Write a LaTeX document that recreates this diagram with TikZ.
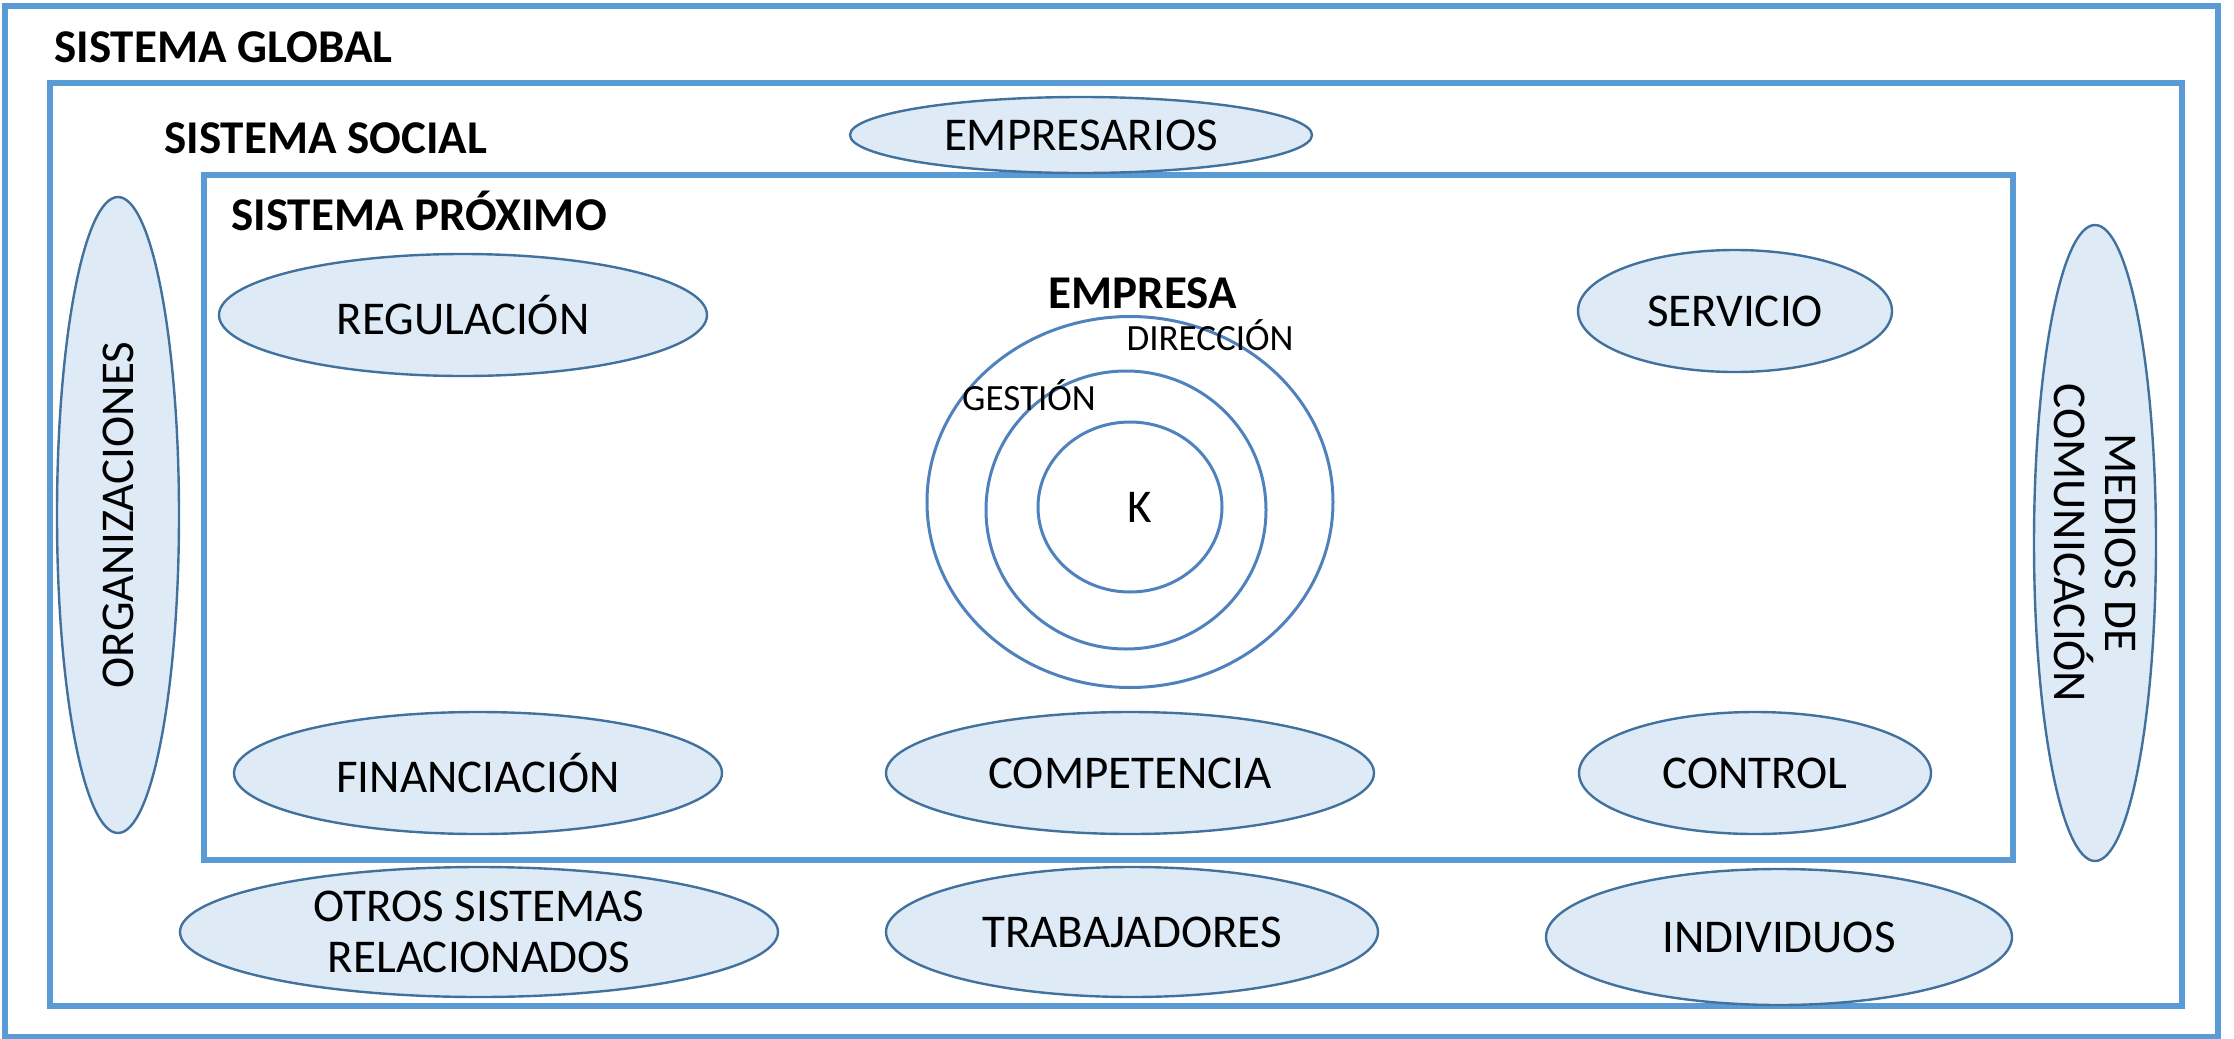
\documentclass[tikz,border=0pt]{standalone}
\usepackage{fontspec}
\setmainfont{Carlito}
\usetikzlibrary{shapes.geometric}
\definecolor{marco}{HTML}{5B9BD5}
\definecolor{relleno}{HTML}{DEEBF7}
\definecolor{borde}{HTML}{41719C}
\definecolor{aro}{HTML}{4F81BD}
\begin{document}
\begin{tikzpicture}[
    x=0.5pt, y=-0.5pt,
    sistema/.style={draw=marco, line width=2.7pt},
    titulo/.style={anchor=west, inner sep=0pt, font=\fontsize{23.5}{28}\selectfont\bfseries},
    agente/.style={ellipse, draw=borde, fill=relleno, line width=1.2pt, inner sep=0pt,
        align=center, font=\fontsize{23.5}{25.5}\selectfont},
    anillo/.style={ellipse, draw=aro, line width=1.5pt, inner sep=0pt, font=\fontsize{23.5}{28}\selectfont},
    nivel/.style={inner sep=0pt, font=\fontsize{18.5}{22}\selectfont}
]
\useasboundingbox (0,0) rectangle (2234,1039);
% marcos de los sistemas
\draw[sistema] (5,6) rectangle (2218,1037);
\draw[sistema] (50,83) rectangle (2182,1006);
\draw[sistema] (204,175) rectangle (2013,860);
\node[titulo] (global) at (54,47) {SISTEMA GLOBAL};
\node[titulo] (social) at (164,138) {SISTEMA SOCIAL};
\node[titulo] (proximo) at (231,211) {SISTEMA PRÓXIMO};

% empresa
\node[anillo, minimum width=203pt, minimum height=185.5pt] (direccion) at (1130,502) {};
\node[anillo, minimum width=140pt, minimum height=139pt] (gestion) at (1126,510) {};
\node[anillo, minimum width=92pt, minimum height=85pt] (k) at (1130,507) {\hspace*{10pt}K};
\node[titulo, anchor=center] (empresa) at (1143,293) {EMPRESA};
\node[nivel] (ldireccion) at (1210,335) {DIRECCIÓN};
\node[nivel] (lgestion) at (1029,395) {GESTIÓN};

% sistema proximo
\node[agente, minimum width=244pt, minimum height=61pt] (regulacion) at (463,315) {REGULACIÓN};
\node[agente, minimum width=157pt, minimum height=61pt] (servicio) at (1735,311) {SERVICIO};
\node[agente, minimum width=244pt, minimum height=61pt] (financiacion) at (478,773) {FINANCIACIÓN};
\node[agente, minimum width=244pt, minimum height=61pt] (competencia) at (1130,773) {COMPETENCIA};
\node[agente, minimum width=176pt, minimum height=61pt] (control) at (1755,773) {CONTROL};

% sistema social
\node[agente, minimum width=231pt, minimum height=38pt] (empresarios) at (1081,135) {EMPRESARIOS};
\node[agente, rotate=90, minimum width=318pt, minimum height=61pt] (organizaciones) at (118,515) {ORGANIZACIONES};
\node[agente, rotate=-90, inner ysep=-10pt, minimum width=318pt, minimum height=61pt] (medios) at (2095,543) {MEDIOS DE\\COMUNICACIÓN};
\node[agente, inner ysep=-10pt, minimum width=299pt, minimum height=65pt] (otros) at (479,932) {OTROS SISTEMAS\\RELACIONADOS};
\node[agente, minimum width=246pt, minimum height=65pt] (trabajadores) at (1132,932) {TRABAJADORES};
\node[agente, minimum width=233pt, minimum height=68pt] (individuos) at (1779,937) {INDIVIDUOS};
\end{tikzpicture}
\end{document}
